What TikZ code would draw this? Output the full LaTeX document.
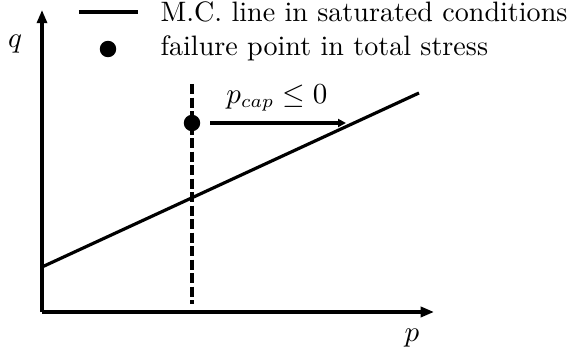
\documentclass[tikz,border=0pt]{standalone}
\usetikzlibrary{arrows.meta}
\begin{document}
\begin{tikzpicture}[x=0.3774pt,y=-0.3774pt,
  axis/.style={line width=1.2pt,-{Triangle[length=5pt,width=3.8pt]}},
  mcline/.style={line width=1.2pt},
  cutline/.style={line width=1.2pt,dash pattern=on 3.8pt off 1.3pt},
  dotnode/.style={circle,fill=black,inner sep=0pt,minimum size=6.2pt},
  txt/.style={inner sep=0pt,font=\fontsize{10.6}{12.7}\selectfont}]
\useasboundingbox (0,0) rectangle (579,358);
% axes
\coordinate (O) at (42,312);
\coordinate (ytip) at (42,10);
\coordinate (xtip) at (434,312);
\draw[axis] (O) -- (ytip);
\draw[axis] (O) -- (xtip);
\node[txt] (qlab) at (15,44) {$q$};
\node[txt] (plab) at (412,338) {$p$};
% M.C. line
\coordinate (mc1) at (42,267);
\coordinate (mc2) at (419,93);
\draw[mcline] (mc1) -- (mc2);
% dashed vertical
\coordinate (d1) at (192,84);
\coordinate (d2) at (192,304);
\draw[cutline] (d1) -- (d2);
% failure point
\node[dotnode] (fp) at (192,123) {};
\coordinate (atip) at (346,123);
\draw[line width=1.2pt,-{Triangle[length=3pt,width=3pt]},shorten <=3.5pt] (fp.east) -- (atip);
\node[txt] (pcap) at (277,98) {$p_{cap}\leq 0$};
% legend
\coordinate (l1) at (79,12);
\coordinate (l2) at (138,12);
\draw[mcline] (l1) -- (l2);
\node[txt,anchor=base west] (leg1) at (160,22) {M.C. line in saturated conditions};
\node[dotnode] (ldot) at (108,49) {};
\node[txt,anchor=base west] (leg2) at (160,56) {failure point in total stress};
\end{tikzpicture}
\end{document}
